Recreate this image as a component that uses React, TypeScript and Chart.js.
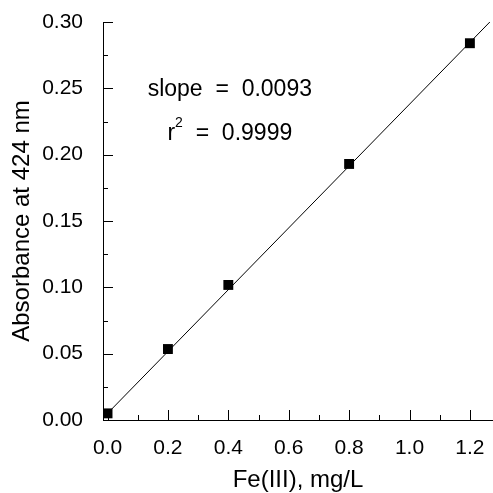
import React, { useEffect, useRef } from "react";
import { Chart, registerables } from "chart.js";

Chart.register(...registerables);

const concentrations = [0, 0.2, 0.4, 0.8, 1.2];
const absorbances = [0.005, 0.0535, 0.1018, 0.193, 0.284];
const fitX = [0, 1.266];
const fitY = [0.005, 0.3];
const slopeText = "slope  =  0.0093";
const r2Text = "  =  0.9999";

const FONT = "'Liberation Sans', Arial, Helvetica, sans-serif";

const insideTicks = {
  id: "insideTicks",
  afterDatasetsDraw(chart: any) {
    const { ctx, chartArea } = chart;
    const xs = chart.scales.x;
    const ys = chart.scales.y;
    ctx.save();
    ctx.strokeStyle = "#000";
    ctx.lineWidth = 1;
    ctx.beginPath();
    xs.ticks.forEach((t: any) => {
      const major = Math.abs(Math.round(t.value * 10)) % 2 === 0;
      const len = major ? 10 : 5;
      const px = Math.round(xs.getPixelForValue(t.value)) + 0.5;
      ctx.moveTo(px, chartArea.bottom);
      ctx.lineTo(px, chartArea.bottom - len);
    });
    ys.ticks.forEach((t: any) => {
      const major = Math.abs(Math.round(t.value * 1000)) % 50 === 0;
      const len = major ? 10 : 5;
      const py = Math.round(ys.getPixelForValue(t.value)) + 0.5;
      ctx.moveTo(chartArea.left, py);
      ctx.lineTo(chartArea.left + len, py);
    });
    ctx.stroke();

    // annotation
    const big = `23px ${FONT}`;
    const small = `14px ${FONT}`;
    ctx.fillStyle = "#000";
    ctx.font = big;
    ctx.textBaseline = "middle";
    ctx.textAlign = "center";
    const cx = xs.getPixelForValue(0.405);
    const y1 = ys.getPixelForValue(0.249);
    const y2 = ys.getPixelForValue(0.216);
    ctx.fillText(slopeText, cx, y1);
    ctx.textAlign = "left";
    const wR = ctx.measureText("r").width;
    const wRest = ctx.measureText(r2Text).width;
    ctx.font = small;
    const w2 = ctx.measureText("2").width;
    const total = wR + w2 + wRest;
    const x0 = cx - total / 2;
    ctx.font = big;
    ctx.fillText("r", x0, y2);
    ctx.font = small;
    ctx.fillText("2", x0 + wR, y2 - 10);
    ctx.font = big;
    ctx.fillText(r2Text, x0 + wR + w2, y2);
    ctx.restore();
  },
};

export default function App() {
  const ref = useRef<HTMLCanvasElement>(null);
  useEffect(() => {
    document.body.style.margin = "0";
    const canvas = ref.current!;
    const chart = new Chart(canvas, {
      type: "scatter",
      data: {
        datasets: [
          {
            type: "line",
            data: fitX.map((x, i) => ({ x, y: fitY[i] })),
            borderColor: "#000",
            borderWidth: 1,
            pointRadius: 0,
            fill: false,
          } as any,
          {
            data: concentrations.map((x, i) => ({ x, y: absorbances[i] })),
            pointStyle: "rect",
            pointRadius: 7,
            backgroundColor: "#000",
            borderColor: "#000",
            borderWidth: 0,
          },
        ],
      },
      options: {
        animation: false,
        responsive: false,
        maintainAspectRatio: false,
        layout: { autoPadding: false, padding: { top: 22, right: 0, left: 0, bottom: 0 } },
        plugins: { legend: { display: false }, tooltip: { enabled: false } },
        scales: {
          x: {
            type: "linear",
            min: -0.015,
            max: 1.2765,
            grid: { display: false },
            border: { display: true, color: "#000", width: 1 },
            ticks: {
              stepSize: 0.1,
              includeBounds: false,
              autoSkip: false,
              maxRotation: 0,
              padding: 8,
              color: "#000",
              font: { family: FONT, size: 21 },
              callback: (v: any) =>
                Math.abs(Math.round(v * 10)) % 2 === 0 ? Number(v).toFixed(1) : "",
            },
            title: {
              display: true,
              text: "Fe(III), mg/L",
              color: "#000",
              font: { family: FONT, size: 24 },
              padding: { top: 4, bottom: -2 },
            },
            afterFit: (s: any) => {
              s.height = 73;
              s.paddingLeft = 0;
              s.paddingRight = 0;
            },
          },
          y: {
            type: "linear",
            min: 0,
            max: 0.3,
            grid: { display: false },
            border: { display: true, color: "#000", width: 1 },
            ticks: {
              stepSize: 0.025,
              includeBounds: false,
              autoSkip: false,
              padding: 12,
              color: "#000",
              font: { family: FONT, size: 21 },
              callback: (v: any) =>
                Math.abs(Math.round(v * 1000)) % 50 === 0 ? Number(v).toFixed(2) : "",
            },
            title: {
              display: true,
              text: "Absorbance at 424 nm",
              color: "#000",
              font: { family: FONT, size: 24 },
              padding: { top: 8, bottom: 4 },
            },
            afterFit: (s: any) => {
              s.width = 103;
              s.paddingTop = 0;
              s.paddingBottom = 0;
            },
          },
        },
      },
      plugins: [insideTicks],
    });
    return () => chart.destroy();
  }, []);
  return (
    <div style={{ width: 493, height: 493 }}>
      <canvas ref={ref} width={493} height={493} style={{ display: "block" }} />
    </div>
  );
}
